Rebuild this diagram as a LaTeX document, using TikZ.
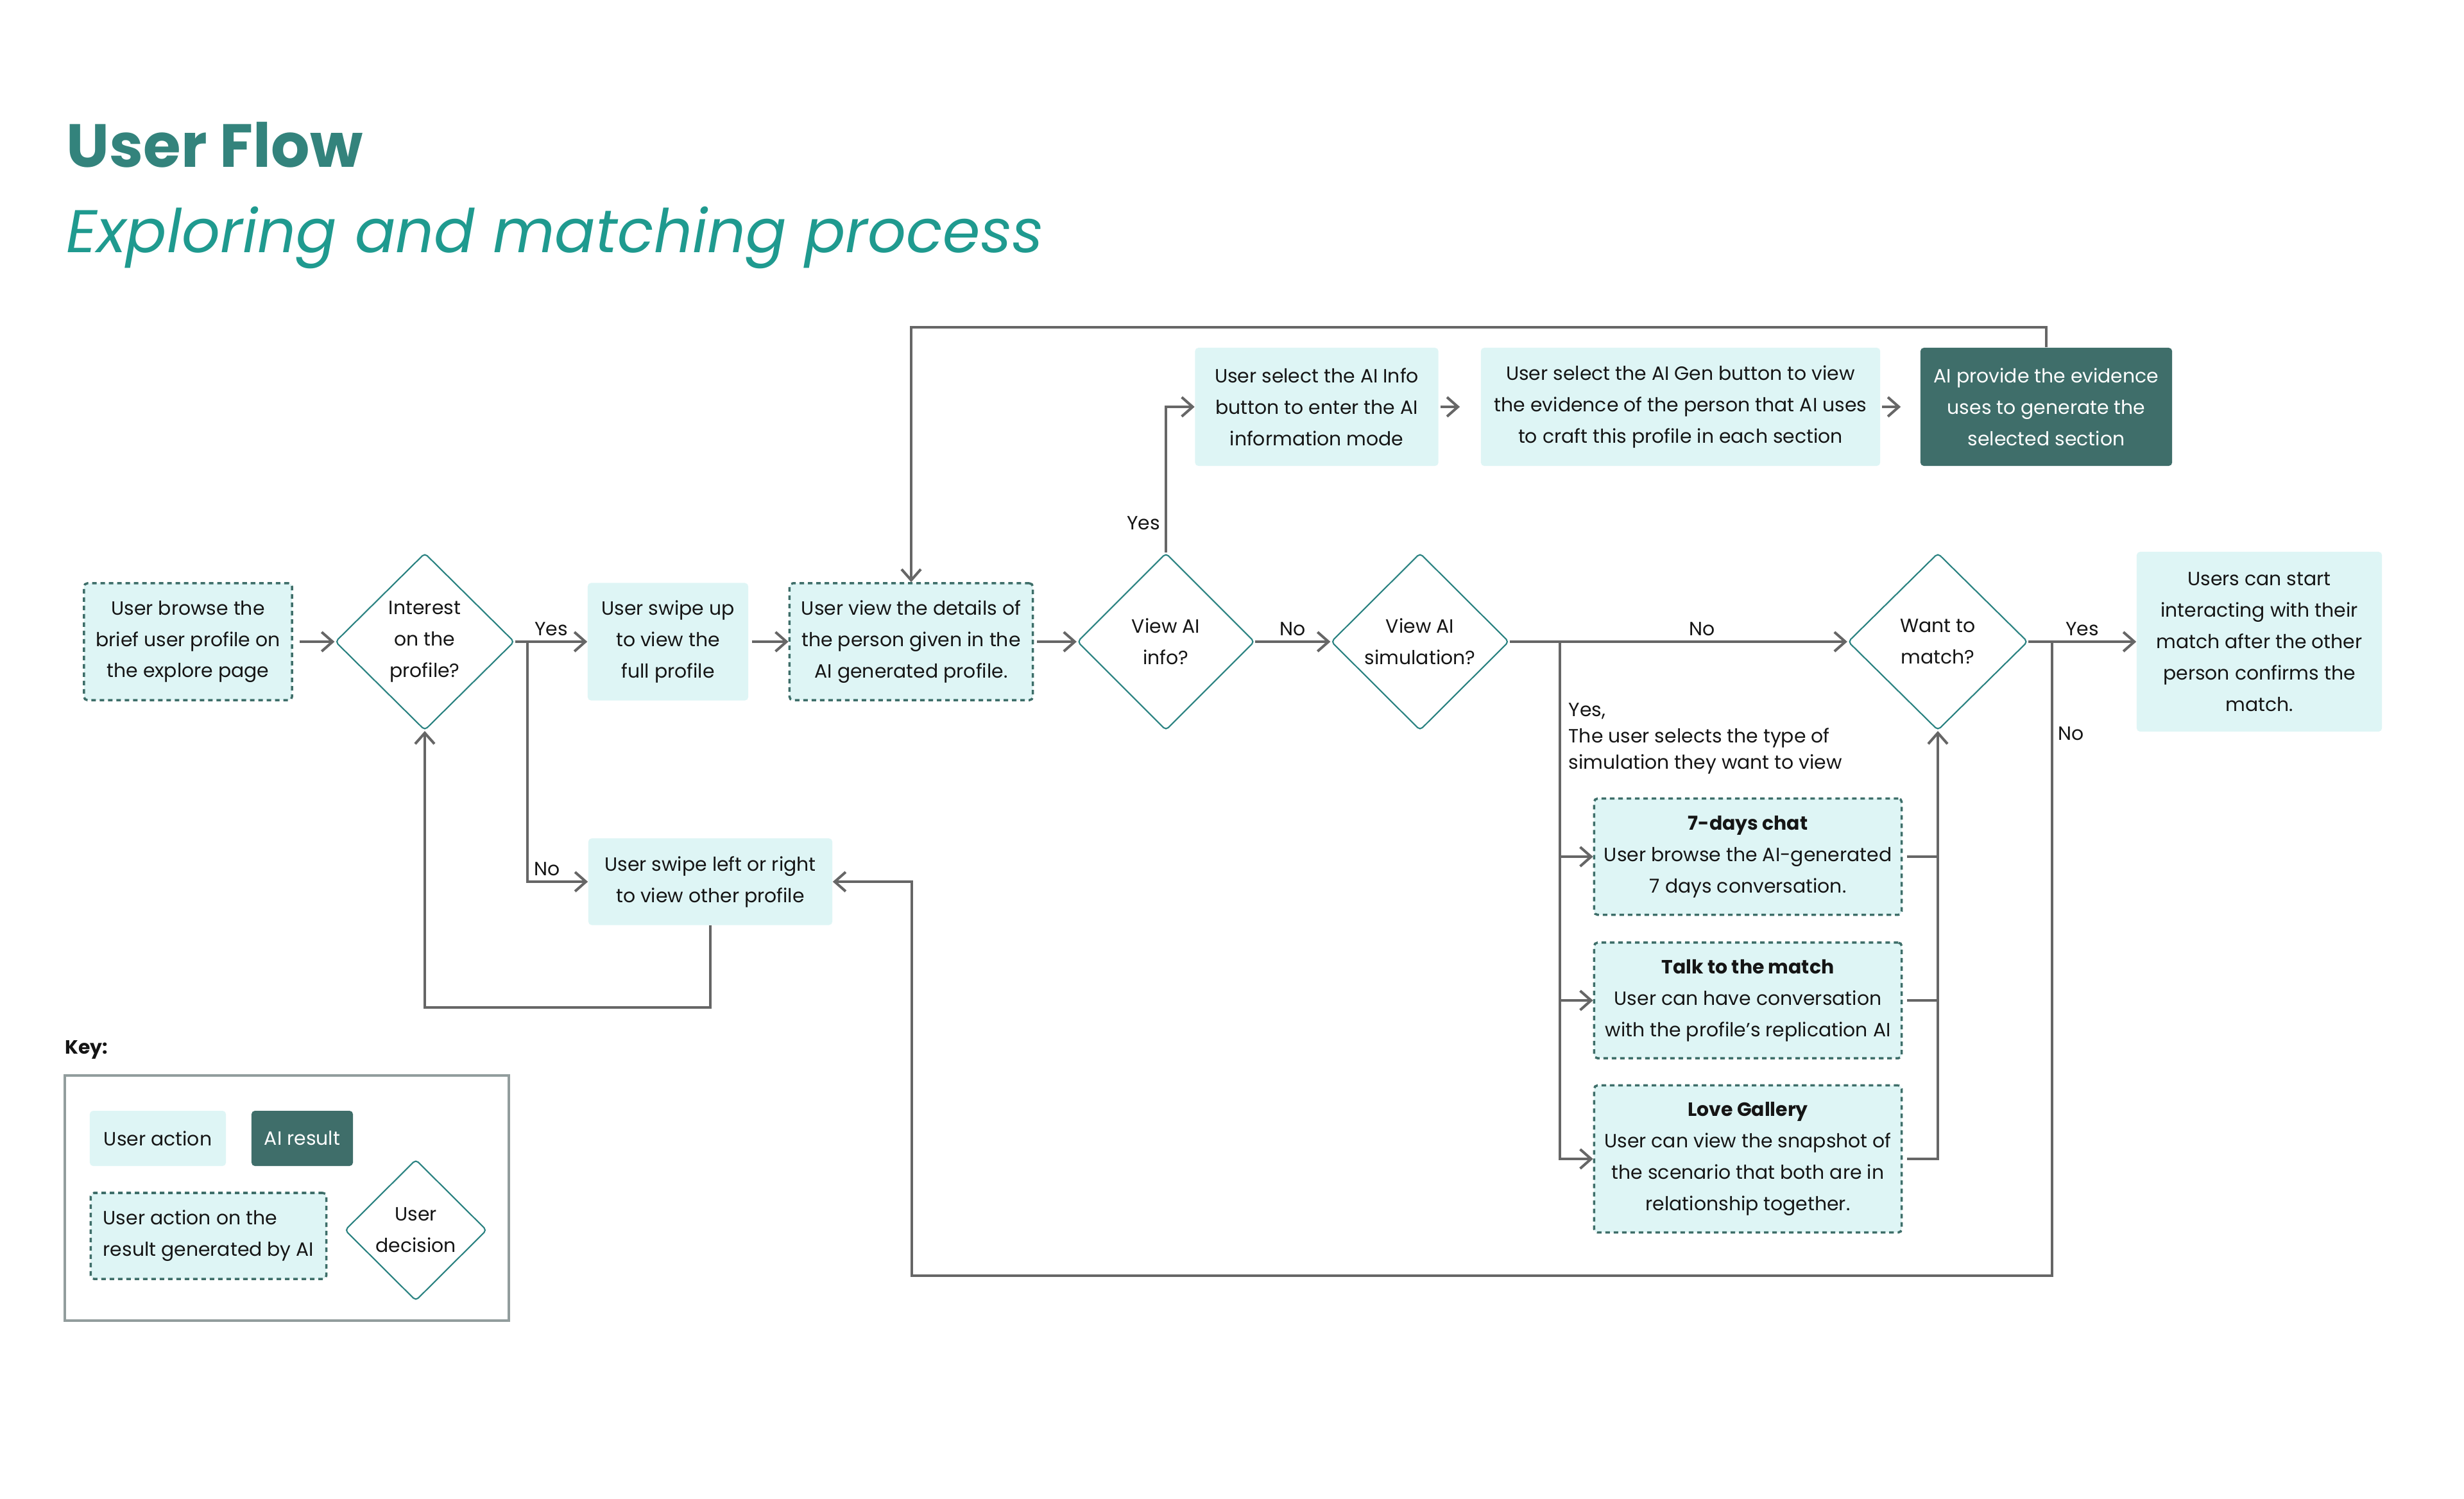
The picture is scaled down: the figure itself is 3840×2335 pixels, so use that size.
\documentclass[tikz,border=0pt]{standalone}
\usepackage{fontspec}
\setmainfont{Poppins}
\usetikzlibrary{shapes.geometric,arrows.meta}

\definecolor{titlecol}{HTML}{33837C}
\definecolor{subcol}{HTML}{1F9A8F}
\definecolor{actfill}{HTML}{DEF5F5}
\definecolor{aifill}{HTML}{3F6E6A}
\definecolor{dashcol}{HTML}{3E6E69}
\definecolor{diacol}{HTML}{2A8281}
\definecolor{arrowgray}{HTML}{666666}
\definecolor{keygray}{HTML}{929D9D}
\definecolor{inkcol}{HTML}{151515}

\newcommand{\boxfont}{\fontsize{8.5}{13.9}\selectfont}
\newcommand{\notefont}{\fontsize{8.5}{11.7}\selectfont}

\tikzset{
  useract/.style={rectangle, rounded corners=1.5pt, fill=actfill, text=inkcol, inner sep=0pt, align=center, font=\boxfont},
  userai/.style={useract, draw=dashcol, line width=1pt, dash pattern=on 2pt off 1.7pt},
  airesult/.style={useract, fill=aifill, text=white},
  decision/.style={diamond, draw=diacol, line width=0.6pt, rounded corners=1.5pt, fill=white, text=inkcol, inner sep=0pt, align=center, font=\boxfont},
  link/.style={draw=arrowgray, line width=1.15pt},
  flow/.style={link, -{Straight Barb[length=1.7mm,width=3mm]}},
  lbl/.style={font=\boxfont, text=inkcol, inner sep=2pt}
}

\begin{document}
\begin{tikzpicture}[x=0.01cm,y=-0.01cm]

\fill[white] (0,0) rectangle (3840,2335);
\useasboundingbox (0,0) rectangle (3840,2335);

%%% Title
\node[anchor=base west, inner sep=0pt, text=titlecol, font=\fontsize{27}{30}\selectfont\bfseries] (title) at (103,260) {User Flow};
\node[anchor=base west, inner sep=0pt, text=subcol, font=\fontsize{26.7}{30}\selectfont\itshape] (subtitle) at (103,393) {Exploring and matching process};

%%% Main row
\node[userai, minimum width=3.24cm, minimum height=1.82cm] (browse) at (293,1000) {User browse the\\brief user profile on\\the explore page};
\node[decision, minimum width=2.79cm, minimum height=2.76cm] (interest) at (662,1000) {Interest\\on the\\profile?};
\node[useract, minimum width=2.50cm, minimum height=1.83cm] (swipeup) at (1041,1000) {User swipe up\\to view the\\full profile};
\node[userai, minimum width=3.79cm, minimum height=1.82cm] (details) at (1420,1000) {User view the details of\\the person given in the\\AI generated profile.};
\node[decision, minimum width=2.76cm, minimum height=2.76cm] (viewinfo) at (1817,1000) {View AI\\info?};
\node[decision, minimum width=2.77cm, minimum height=2.76cm] (viewsim) at (2213,1000) {View AI\\simulation?};
\node[decision, minimum width=2.80cm, minimum height=2.76cm] (wantmatch) at (3020,1000) {Want to\\match?};
\node[useract, minimum width=3.82cm, minimum height=2.80cm] (startchat) at (3521,1000) {Users can start\\interacting with their\\match after the other\\person confirms the\\match.};

%%% AI info row
\node[useract, minimum width=3.79cm, minimum height=1.84cm] (aiinfo) at (2052,634) {User select the AI Info\\button to enter the AI\\information mode};
\node[useract, minimum width=6.22cm, minimum height=1.84cm] (aigen) at (2619,634) {User select the AI Gen button to view\\the evidence of the person that AI uses\\to craft this profile in each section};
\node[airesult, minimum width=3.92cm, minimum height=1.84cm] (evidence) at (3189,634) {AI provide the evidence\\uses to generate the\\selected section};

%%% Swipe away
\node[useract, minimum width=3.80cm, minimum height=1.35cm] (swipelr) at (1107,1374) {User swipe left or right\\to view other profile};

%%% Simulations
\node[userai, minimum width=4.79cm, minimum height=1.81cm] (chat7) at (2724,1335) {\textbf{7-days chat}\\User browse the AI-generated\\7 days conversation.};
\node[userai, minimum width=4.79cm, minimum height=1.80cm] (talk) at (2724,1559) {\textbf{Talk to the match}\\User can have conversation\\with the profile’s replication AI};
\node[userai, minimum width=4.79cm, minimum height=2.29cm] (gallery) at (2724,1806) {\textbf{Love Gallery}\\User can view the snapshot of\\the scenario that both are in\\relationship together.};
\node[lbl, anchor=north west, align=left, font=\notefont] (simnote) at (2437,1088) {Yes,\\The user selects the type of\\simulation they want to view};

%%% Connectors
\coordinate (interestsplit) at (822,1000);
\coordinate (simsplit) at (2431,1000);
\coordinate (matchsplit) at (3198,1000);
\coordinate (loopTR) at (3189,510);
\coordinate (loopTL) at (1420,510);
\coordinate (loopBR) at (3198,1988);
\coordinate (loopBL) at (1421,1988);
\coordinate (backB) at (1107,1570);

\draw[flow, shorten <=0.1cm] (browse.east) -- (interest.west);
\draw[flow] (interest.east) -- node[lbl, above]{Yes} (swipeup.west);
\draw[flow] (interestsplit) |- node[lbl, above, pos=0.66]{No} (swipelr.west);
\draw[flow, shorten <=0.05cm] (swipeup.east) -- (details.west);
\draw[flow, shorten <=0.05cm] (details.east) -- (viewinfo.west);
\draw[flow] (viewinfo.north) |- node[lbl, left, pos=0.1]{Yes} (aiinfo.west);
\draw[flow, shorten <=0.03cm, shorten >=0.32cm] (aiinfo.east) -- (aigen.west);
\draw[flow, shorten <=0.02cm, shorten >=0.3cm] (aigen.east) -- (evidence.west);
\draw[flow] (evidence.north) -- (loopTR) -- (loopTL) -- (details.north);
\draw[flow] (viewinfo.east) -- node[lbl, above]{No} (viewsim.west);
\draw[flow] (viewsim.east) -- node[lbl, above, pos=0.57]{No} (wantmatch.west);
\draw[flow] (simsplit) |- (gallery.west);
\draw[flow] (simsplit |- chat7.west) -- (chat7.west);
\draw[flow] (simsplit |- talk.west) -- (talk.west);
\draw[link, shorten <=0.07cm] (chat7.east) -- (chat7.east -| wantmatch.south);
\draw[link, shorten <=0.07cm] (talk.east) -- (talk.east -| wantmatch.south);
\draw[flow, shorten <=0.07cm] (gallery.east) -| (wantmatch.south);
\draw[flow] (wantmatch.east) -- node[lbl, above]{Yes} (startchat.west);
\draw[flow] (matchsplit) -- node[lbl, right, pos=0.145]{No} (loopBR) -- (loopBL) |- (swipelr.east);
\draw[flow] (swipelr.south) -- (backB) -| (interest.south);

%%% Key
\node[anchor=west, inner sep=0pt, text=inkcol, font=\boxfont\bfseries] (keytitle) at (101,1636) {Key:};
\draw[keygray, line width=1.2pt] (101,1676) rectangle (793,2058);
\node[useract, minimum width=2.12cm, minimum height=0.86cm] (keyact) at (246,1774) {User action};
\node[airesult, minimum width=1.58cm, minimum height=0.86cm] (keyai) at (471,1774) {AI result};
\node[userai, align=left, minimum width=3.67cm, minimum height=1.34cm] (keyaiact) at (325,1926) {User action on the\\result generated by AI};
\node[decision, minimum width=2.21cm, minimum height=2.20cm] (keydec) at (648,1917) {User\\decision};

\end{tikzpicture}
\end{document}
